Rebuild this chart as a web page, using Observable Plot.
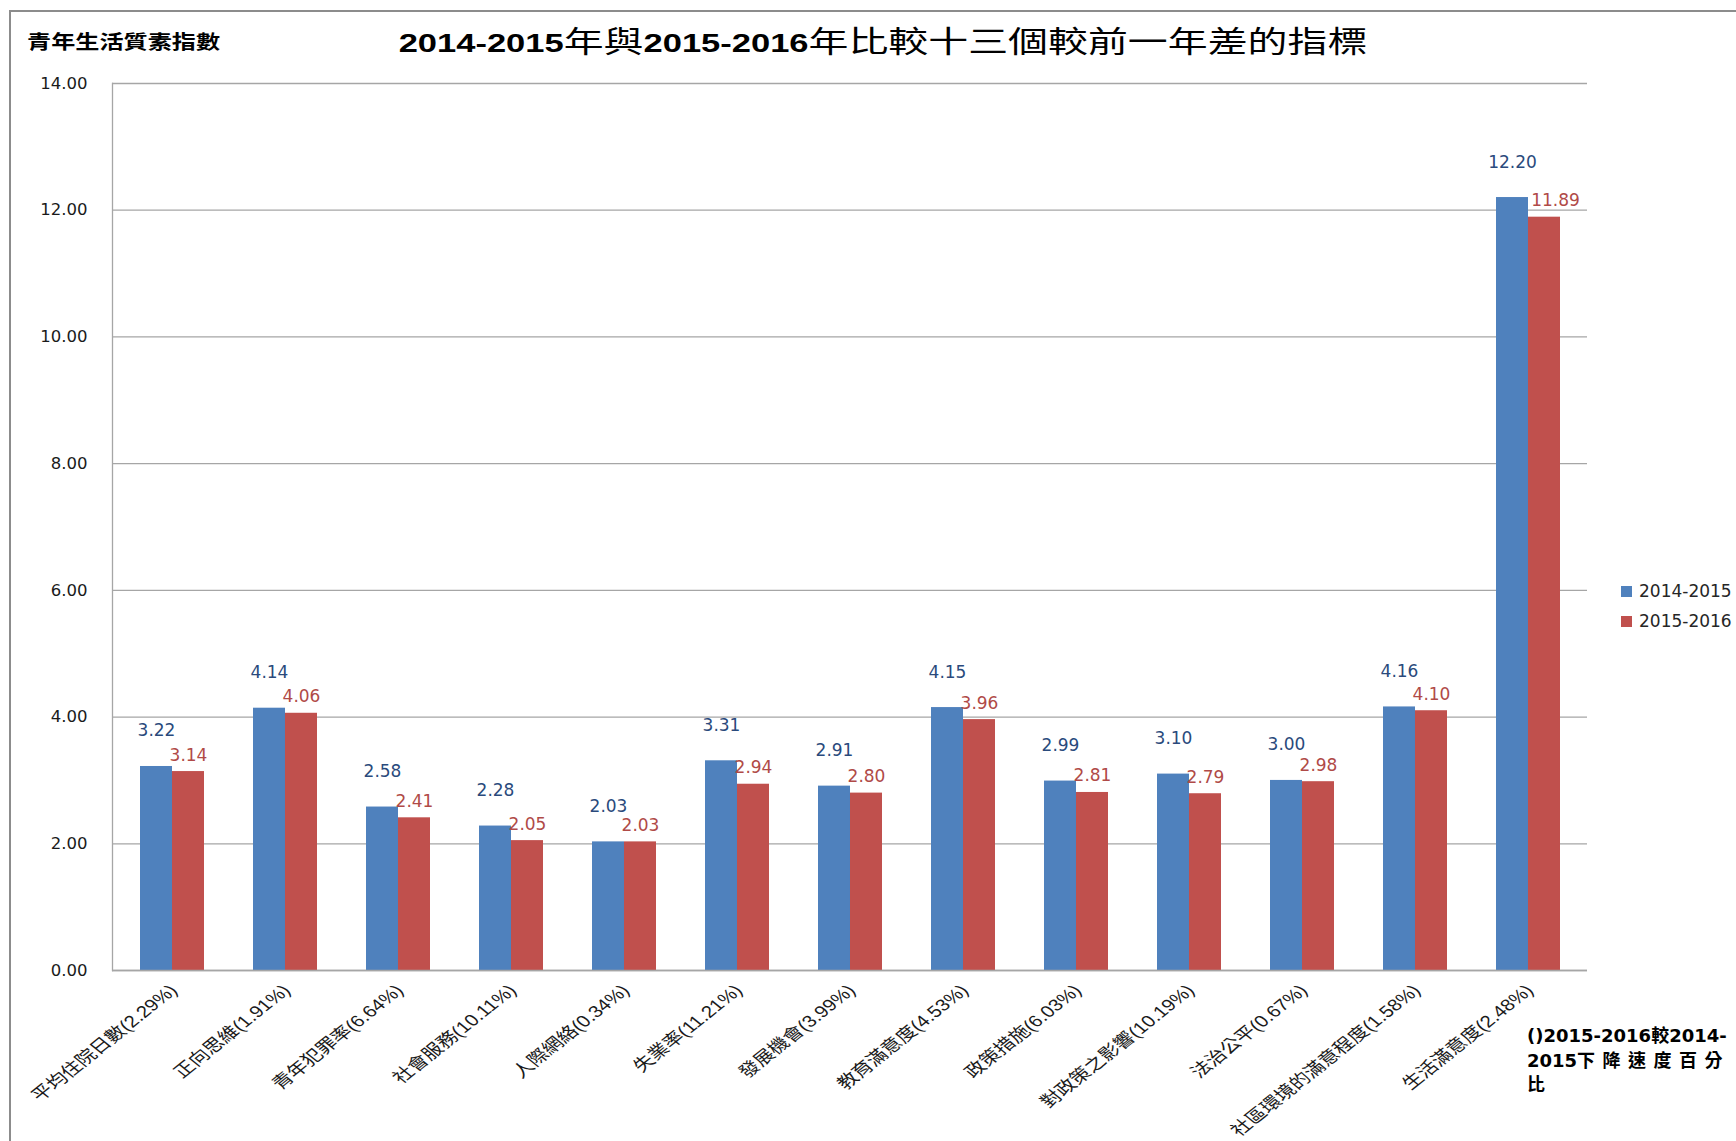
<!DOCTYPE html>
<html><head><meta charset="utf-8">
<script src="https://cdn.jsdelivr.net/npm/d3@7"></script>
<script src="https://cdn.jsdelivr.net/npm/@observablehq/plot@0.6"></script>
<style>
body{margin:0;background:#fff;}
#wrap{position:relative;width:1736px;height:1141px;overflow:hidden;background:#fff;}
#border{position:absolute;left:9px;top:10px;width:1800px;height:1200px;border-top:2px solid #8c8c8c;border-left:2px solid #8c8c8c;box-sizing:border-box;}
#chart{position:absolute;left:0;top:0;}
#title{position:absolute;left:883px;top:41px;transform:translate(-50%,-50%) scaleX(1.353);white-space:nowrap;line-height:1;color:#000;}
#title .lat{font-family:"Liberation Sans",Arial,sans-serif;font-weight:bold;font-size:25.5px;}
#title .cjk{font-family:"Noto Sans CJK TC",sans-serif;font-weight:normal;font-size:29.5px;}
#ylabel{position:absolute;left:27px;top:30px;font-family:"Noto Sans CJK TC",sans-serif;font-weight:bold;font-size:19px;line-height:1.2;transform:scaleX(1.27);transform-origin:left center;white-space:nowrap;color:#000;}
#legend{position:absolute;left:1621px;top:576px;font-family:"DejaVu Sans",sans-serif;font-size:17px;color:#262626;}
#legend .item{display:flex;align-items:center;height:30px;}
#legend .sw{width:11px;height:11px;margin-right:7px;}
#note{position:absolute;left:1527px;top:1023px;font-family:"DejaVu Sans","Noto Sans CJK TC",sans-serif;font-weight:bold;font-size:18px;line-height:22.5px;color:#000;white-space:nowrap;}
#note .cjk{font-family:"Noto Sans CJK TC",sans-serif;}
</style></head><body>
<div id="wrap">
  <div id="border"></div>
  <div id="chart"></div>
  <div id="title"></div>
  <div id="ylabel"></div>
  <div id="legend"></div>
  <div id="note"></div>
</div>
<script>
// ---- data ----
const categories = ["平均住院日數(2.29%)","正向思維(1.91%)","青年犯罪率(6.64%)","社會服務(10.11%)","人際網絡(0.34%)","失業率(11.21%)","發展機會(3.99%)","教育滿意度(4.53%)","政策措施(6.03%)","對政策之影響(10.19%)","法治公平(0.67%)","社區環境的滿意程度(1.58%)","生活滿意度(2.48%)"];
const seriesNames = ["2014-2015","2015-2016"];
const values2014_2015 = [3.22,4.14,2.58,2.28,2.03,3.31,2.91,4.15,2.99,3.10,3.00,4.16,12.20];
const values2015_2016 = [3.14,4.06,2.41,2.05,2.03,2.94,2.80,3.96,2.81,2.79,2.98,4.10,11.89];
const yTicks = [0,2,4,6,8,10,12,14];
const titleText = "2014-2015年與2015-2016年比較十三個較前一年差的指標";
const yLabelText = "青年生活質素指數";
const noteLines = ["()2015-2016較2014-","2015下降速度百分","比"];

// ---- styles ----
const blue = "#4F81BD", red = "#C0504D";
const blueText = "#2A4A7C", redText = "#B04A47";
const gridColor = "#a6a6a6";

const W = 1736, H = 1141, mL = 112, mR = 149, mT = 83, mB = 171;
const padIn = 0.436;
const step = (W - mL - mR) / categories.length;
const half = step * (1 - padIn) / 2;
const last = categories.length - 1;

const rows = categories.map((c, i) => ({cat: c, a: values2014_2015[i], b: values2015_2016[i]}));

const plot = Plot.plot({
  width: W, height: H,
  marginLeft: mL, marginRight: mR, marginTop: mT, marginBottom: mB,
  style: {fontFamily: "DejaVu Sans, sans-serif", background: "transparent", color: "#1a1a1a", overflow: "visible"},
  x: {type: "band", domain: categories, paddingInner: padIn, paddingOuter: padIn / 2, axis: null},
  y: {domain: [0, 14], axis: null},
  marks: [
    Plot.gridY(yTicks, {stroke: gridColor, strokeOpacity: 1, strokeWidth: 1.3}),
    Plot.frame({anchor: "left", stroke: gridColor, strokeWidth: 1.3}),
    Plot.axisY(yTicks, {tickSize: 0, tickPadding: 25, tickFormat: d3.format(".2f"), fontSize: 16.5}),
    Plot.barY(rows, {x: "cat", y: "a", fill: blue, insetRight: half}),
    Plot.barY(rows, {x: "cat", y: "b", fill: red, insetLeft: half}),
    Plot.ruleY([0], {stroke: gridColor, strokeWidth: 1.3}),
    Plot.text(rows, {x: "cat", y: "a", text: d => d.a.toFixed(2), dx: -half / 2, dy: -30, lineAnchor: "bottom", fill: blueText, fontSize: 17, letterSpacing: 0.6}),
    Plot.text(rows, {filter: (d, i) => i !== last, x: "cat", y: "b", text: d => d.b.toFixed(2), dx: half / 2, dy: -11, lineAnchor: "bottom", fill: redText, fontSize: 17, letterSpacing: 0.6}),
    Plot.text(rows, {filter: (d, i) => i === last, x: "cat", y: "b", text: d => d.b.toFixed(2), dx: half / 2 + 11, dy: -11, lineAnchor: "bottom", fill: redText, fontSize: 17, letterSpacing: 0.6}),
    Plot.text(categories, {x: d => d, text: d => d, frameAnchor: "bottom", dx: 6, dy: 21, textAnchor: "end", lineAnchor: "bottom", rotate: -45, fontSize: 16.5, fontFamily: "Liberation Sans, Noto Sans CJK TC, sans-serif", fill: "#1a1a1a"})
  ]
});
document.getElementById("chart").appendChild(plot);

// horizontally stretch the rotated category labels like the original
d3.select(plot).selectAll("text").each(function() {
  const t = this.getAttribute("transform");
  if (t && t.includes("rotate(")) this.setAttribute("transform", t.replace("rotate(", "scale(1.25,1) rotate("));
});

// ---- texts ----
const cjkRe = /[\u3400-\u9fff\uf900-\ufaff]+|[^\u3400-\u9fff\uf900-\ufaff]+/g;
const isCjk = s => /[\u3400-\u9fff]/.test(s);
const title = d3.select("#title");
for (const r of titleText.match(cjkRe)) title.append("span").attr("class", isCjk(r) ? "cjk" : "lat").text(r);
d3.select("#ylabel").text(yLabelText);

const legend = d3.select("#legend");
seriesNames.forEach((s, i) => {
  const it = legend.append("div").attr("class", "item");
  it.append("div").attr("class", "sw").style("background", i === 0 ? blue : red);
  it.append("span").text(s);
});

const note = d3.select("#note");
noteLines.forEach((line, li) => {
  const div = note.append("div");
  for (const r of line.match(cjkRe)) {
    const sp = div.append("span").text(r);
    if (isCjk(r)) { sp.attr("class", "cjk"); if (li === 1) sp.style("letter-spacing", "7.5px"); }
  }
});
</script>
</body></html>
